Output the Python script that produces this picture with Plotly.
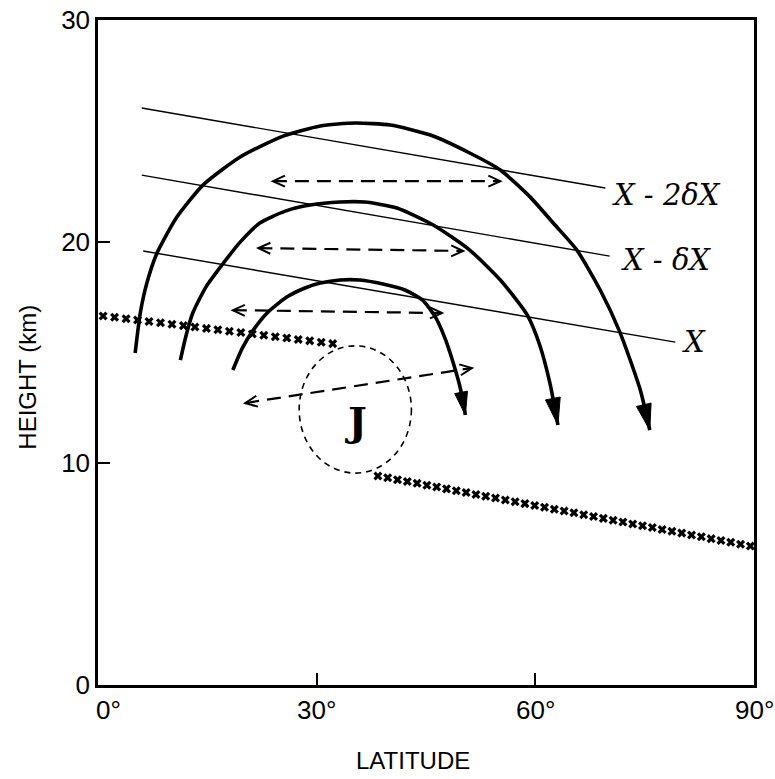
import numpy as np
import plotly.graph_objects as go

# ---- axes ----
LAT_RANGE = [0, 90]
HGT_RANGE = [0, 30]
lat_ticks = [0, 30, 60, 90]
lat_ticktext = ["0°", "30°", "60°", "90°"]
hgt_ticks = [0, 10, 20, 30]
hgt_ticktext = ["0", "10", "20", "30"]

# ---- isentropes (latitude, height km at both ends) ----
isentrope_names = ["X - 2δX", "X - δX", "X"]
isentrope_lat = [[6.0, 69.6], [6.0, 70.2], [6.2, 79.2]]
isentrope_hgt = [[26.03, 22.42], [23.00, 19.35], [19.58, 15.47]]

# ---- circulation cells (thick arrows) ----
outer_lat = [5.1, 5.8, 6.7, 8.1, 10.8, 14.4, 19.5, 25.4, 30.5, 35.3, 40.1, 45.6, 51.0,
             55.2, 59.3, 62.7, 65.7, 68.9, 71.6, 74.4, 75.7]
outer_hgt = [14.98, 16.78, 18.13, 19.49, 21.10, 22.55, 23.82, 24.76, 25.22, 25.35, 25.26,
             24.81, 24.00, 23.23, 22.01, 20.75, 19.62, 17.82, 15.92, 13.31, 11.50]
middle_lat = [11.3, 12.1, 13.0, 14.8, 17.2, 19.5, 22.2, 25.7, 29.1, 33.2, 36.6, 41.0,
              46.0, 51.0, 55.2, 58.9, 60.6, 62.0, 63.1]
middle_hgt = [14.66, 15.79, 16.78, 17.95, 19.03, 19.98, 20.84, 21.38, 21.65, 21.79, 21.79,
              21.52, 20.75, 19.62, 18.27, 16.69, 15.34, 13.62, 11.73]
inner_lat = [18.5, 19.8, 21.3, 23.3, 25.9, 28.4, 30.5, 33.2, 35.9, 39.1, 42.1, 44.5,
             46.2, 47.6, 48.7, 49.7, 50.4]
inner_hgt = [14.21, 15.20, 16.01, 16.82, 17.50, 17.91, 18.13, 18.27, 18.27, 18.09, 17.82,
             17.37, 16.65, 15.65, 14.57, 13.40, 12.18]

# ---- horizontal mixing (dashed double arrows): lat pair, height pair ----
mixing_lat = [[24.0, 55.2], [22.0, 50.1], [18.5, 47.2], [20.2, 51.3]]
mixing_hgt = [[22.73, 22.73], [19.71, 19.58], [16.91, 16.78], [12.72, 14.30]]

# ---- tropopause segments (end points and number of x marks) ----
trop_lat = [[0.7, 32.2], [38.4, 89.5]]
trop_hgt = [[16.65, 15.40], [9.43, 6.27]]
trop_marks = [21, 39]

# ---- jet core ----
jet_lat_span = [27.6, 43.0]
jet_hgt_span = [9.56, 15.3]
jet_label_pos = [35.4, 11.9]

# ---- page geometry ----
W, H = 775, 779
ML, MR, MT, MB = 98, 21, 20, 94
PW, PH = W - ML - MR, H - MT - MB


def to_px(lat, h):
    return np.array([(lat - LAT_RANGE[0]) / (LAT_RANGE[1] - LAT_RANGE[0]) * PW,
                     (h - HGT_RANGE[0]) / (HGT_RANGE[1] - HGT_RANGE[0]) * PH])


def to_data(p):
    return (p[0] / PW * (LAT_RANGE[1] - LAT_RANGE[0]) + LAT_RANGE[0],
            p[1] / PH * (HGT_RANGE[1] - HGT_RANGE[0]) + HGT_RANGE[0])


def head_path(tip, tail, length, half, closed):
    t = to_px(*tip)
    b = to_px(*tail)
    d = (t - b) / np.linalg.norm(t - b)
    n = np.array([-d[1], d[0]])
    c1 = to_data(t - length * d + half * n)
    c2 = to_data(t - length * d - half * n)
    tp = to_data(t)
    path = f"M {c1[0]},{c1[1]} L {tp[0]},{tp[1]} L {c2[0]},{c2[1]}"
    return path + " Z" if closed else path


fig = go.Figure()
shapes = []
annotations = []

# isentropes
for name, la, hg in zip(isentrope_names, isentrope_lat, isentrope_hgt):
    fig.add_trace(go.Scatter(x=la, y=hg, mode="lines",
                             line=dict(color="black", width=1.4),
                             hoverinfo="skip", showlegend=False))

label_shift = [(5, -7), (9, -4), (5, 0)]
for name, la, hg, (dx, dy) in zip(isentrope_names, isentrope_lat, isentrope_hgt, label_shift):
    annotations.append(dict(x=la[1], y=hg[1], xref="x", yref="y", text=f"<i>{name}</i>",
                            showarrow=False, xanchor="left", yanchor="middle",
                            xshift=dx, yshift=dy,
                            font=dict(family="DejaVu Serif", size=29, color="black")))

# circulation cells with filled heads
cells = [(outer_lat, outer_hgt, 26, 7.5), (middle_lat, middle_hgt, 27, 7.5),
         (inner_lat, inner_hgt, 23, 6.5)]
for la, hg, L, hw in cells:
    fig.add_trace(go.Scatter(x=la, y=hg, mode="lines",
                             line=dict(color="black", width=3.6, shape="spline", smoothing=0.6),
                             hoverinfo="skip", showlegend=False))
    shapes.append(dict(type="path", xref="x", yref="y",
                       path=head_path((la[-1], hg[-1]), (la[-2], hg[-2]), L, hw, True),
                       fillcolor="black", line=dict(color="black", width=1)))

# dashed mixing arrows, open heads at both ends
for la, hg in zip(mixing_lat, mixing_hgt):
    fig.add_trace(go.Scatter(x=la, y=hg, mode="lines",
                             line=dict(color="black", width=2.2, dash="14px,8px"),
                             hoverinfo="skip", showlegend=False))
    for i, j in ((0, 1), (1, 0)):
        shapes.append(dict(type="path", xref="x", yref="y",
                           path=head_path((la[i], hg[i]), (la[j], hg[j]), 12, 5.5, False),
                           line=dict(color="black", width=2)))

# tropopause drawn as rows of x marks
for la, hg, n in zip(trop_lat, trop_hgt, trop_marks):
    frac = np.linspace(0, 1, n)
    fig.add_trace(go.Scatter(x=la[0] + frac * (la[1] - la[0]),
                             y=hg[0] + frac * (hg[1] - hg[0]),
                             mode="markers",
                             marker=dict(symbol="x", size=8, color="black"),
                             hoverinfo="skip", showlegend=False))

# jet core
shapes.append(dict(type="circle", xref="x", yref="y",
                   x0=jet_lat_span[0], x1=jet_lat_span[1],
                   y0=jet_hgt_span[0], y1=jet_hgt_span[1],
                   line=dict(color="black", width=1.6, dash="6px,5px")))
annotations.append(dict(x=jet_label_pos[0], y=jet_label_pos[1], xref="x", yref="y",
                        text="<b>J</b>", showarrow=False,
                        font=dict(family="DejaVu Serif", size=40, color="black")))

# latitude tick labels
for v, t in zip(lat_ticks, lat_ticktext):
    annotations.append(dict(x=v, y=0, xref="x", yref="y", text=t, showarrow=False,
                            xanchor="center", yanchor="top", yshift=-8,
                            xshift=10 if v == 0 else 0,
                            font=dict(family="Liberation Sans", size=26, color="black")))

# axis titles
annotations.append(dict(x=0.48, y=-0.114, xref="paper", yref="paper", text="LATITUDE",
                        showarrow=False, xanchor="center", yanchor="middle",
                        font=dict(family="Liberation Sans", size=24, color="black")))
annotations.append(dict(x=-0.107, y=13.9, xref="paper", yref="y", text="HEIGHT (km)",
                        showarrow=False, textangle=-90, xanchor="center", yanchor="middle",
                        font=dict(family="Liberation Sans", size=24, color="black")))

fig.update_layout(
    width=W, height=H,
    margin=dict(l=ML, r=MR, t=MT, b=MB, autoexpand=False),
    paper_bgcolor="white", plot_bgcolor="white",
    shapes=shapes, annotations=annotations,
    xaxis=dict(range=LAT_RANGE, tickvals=lat_ticks, ticktext=lat_ticktext,
               showticklabels=False, ticks="inside", ticklen=12, tickwidth=2,
               tickcolor="black", showline=True, linewidth=2.5, linecolor="black",
               mirror=True, showgrid=False, zeroline=False),
    yaxis=dict(range=HGT_RANGE, tickvals=hgt_ticks, ticktext=hgt_ticktext,
               ticks="inside", ticklen=12, tickwidth=2, tickcolor="black",
               showline=True, linewidth=2.5, linecolor="black", mirror=True,
               showgrid=False, zeroline=False,
               tickfont=dict(family="Liberation Sans", size=26, color="black")),
)

fig.write_html("out.html")
